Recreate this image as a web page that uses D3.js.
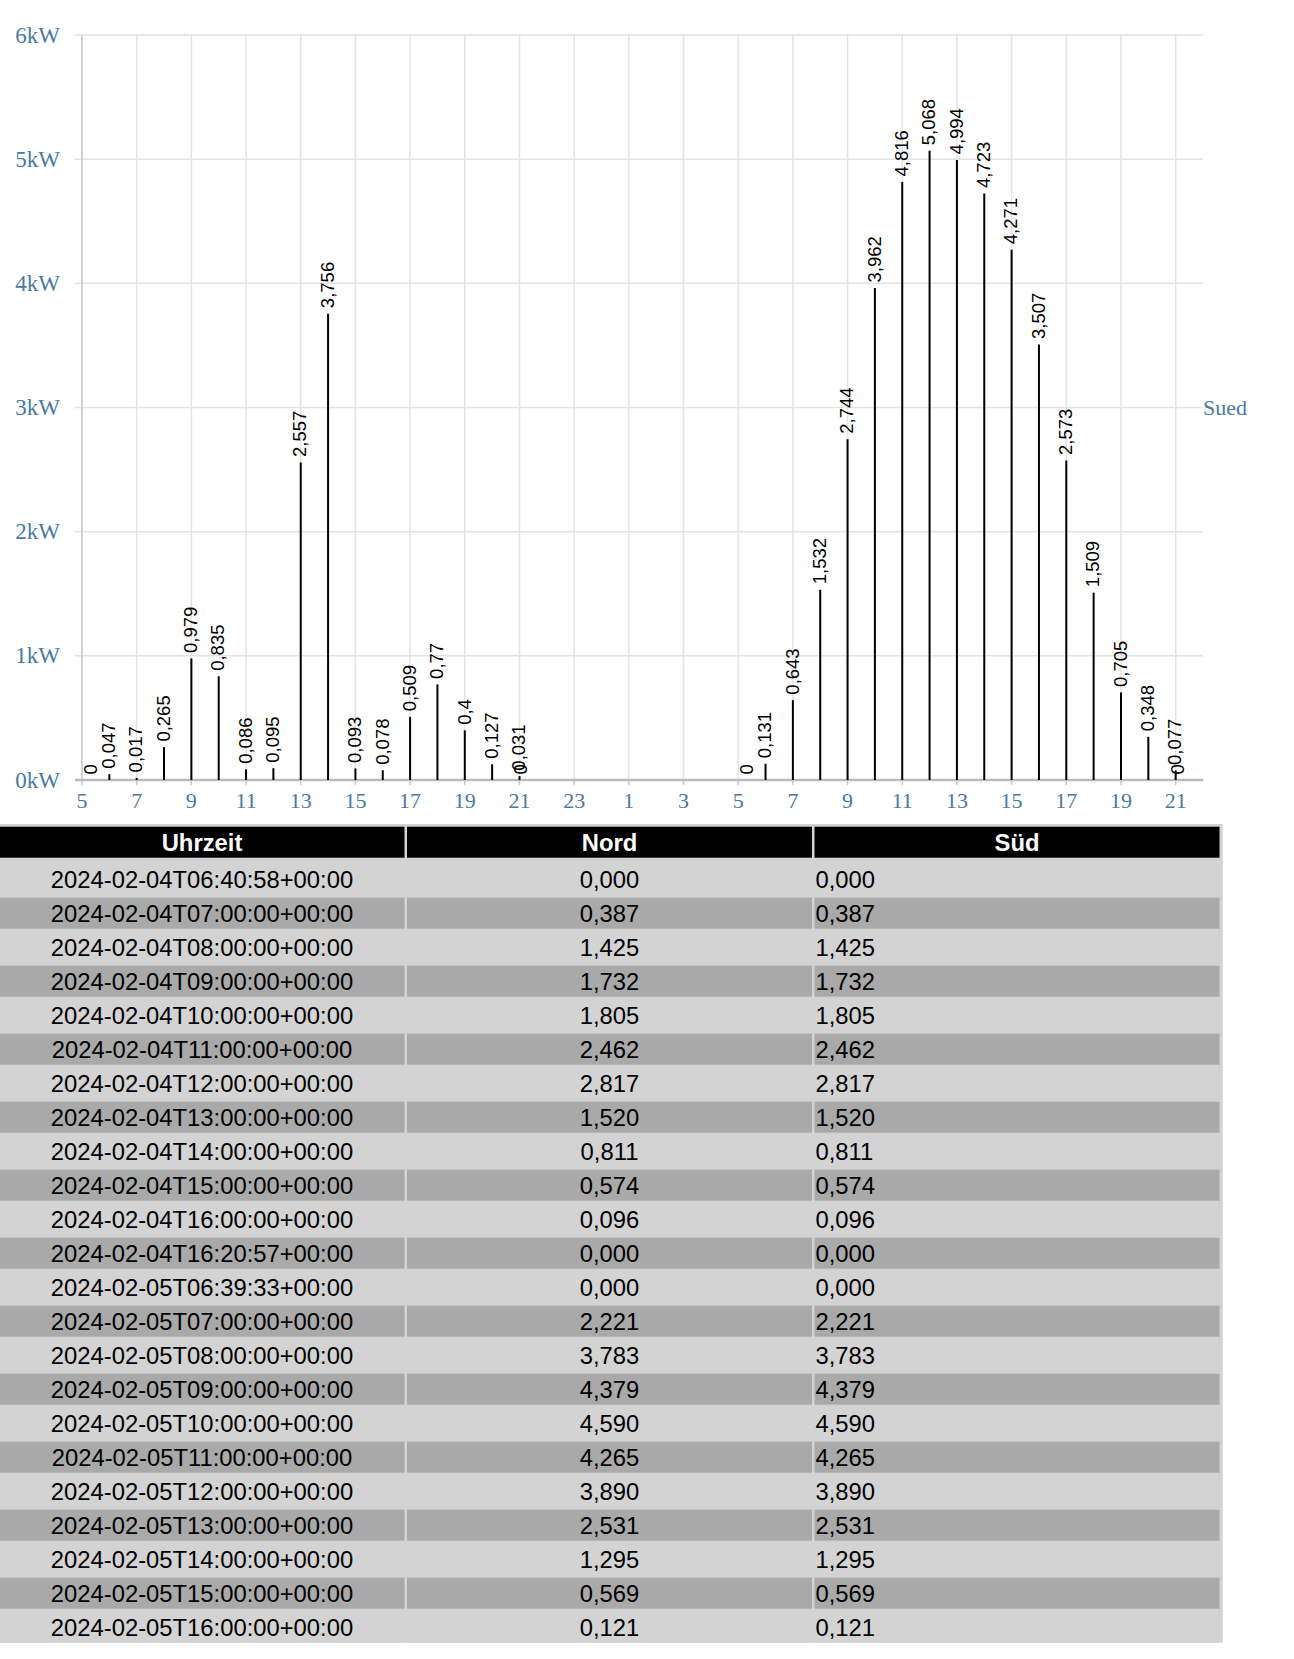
<!DOCTYPE html>
<html>
<head>
<meta charset="utf-8">
<script src="https://cdn.jsdelivr.net/npm/d3@7"></script>
<style>
  html, body { margin: 0; padding: 0; background: #fff; }
  svg { display: block; }
</style>
</head>
<body>
<svg id="chart" width="1294" height="1659"></svg>
<script>
// ---------- chart data (series "Sued") ----------
const day1Times = ["2024-02-04T05:20:00Z","2024-02-04T06:00:00Z","2024-02-04T07:00:00Z","2024-02-04T08:00:00Z",
  "2024-02-04T09:00:00Z","2024-02-04T10:00:00Z","2024-02-04T11:00:00Z","2024-02-04T12:00:00Z",
  "2024-02-04T13:00:00Z","2024-02-04T14:00:00Z","2024-02-04T15:00:00Z","2024-02-04T16:00:00Z",
  "2024-02-04T17:00:00Z","2024-02-04T18:00:00Z","2024-02-04T19:00:00Z","2024-02-04T20:00:00Z",
  "2024-02-04T21:00:00Z","2024-02-04T21:04:00Z"];
const day1Values = [0, 0.047, 0.017, 0.265, 0.979, 0.835, 0.086, 0.095, 2.557, 3.756, 0.093, 0.078, 0.509, 0.77, 0.4, 0.127, 0.031, 0];
const day2Times = ["2024-02-05T05:20:00Z","2024-02-05T06:00:00Z","2024-02-05T07:00:00Z","2024-02-05T08:00:00Z",
  "2024-02-05T09:00:00Z","2024-02-05T10:00:00Z","2024-02-05T11:00:00Z","2024-02-05T12:00:00Z",
  "2024-02-05T13:00:00Z","2024-02-05T14:00:00Z","2024-02-05T15:00:00Z","2024-02-05T16:00:00Z",
  "2024-02-05T17:00:00Z","2024-02-05T18:00:00Z","2024-02-05T19:00:00Z","2024-02-05T20:00:00Z",
  "2024-02-05T21:00:00Z","2024-02-05T21:05:00Z"];
const day2Values = [0, 0.131, 0.643, 1.532, 2.744, 3.962, 4.816, 5.068, 4.994, 4.723, 4.271, 3.507, 2.573, 1.509, 0.705, 0.348, 0.077, 0];
const xDomain = ["2024-02-04T05:00:00Z", "2024-02-05T22:00:00Z"];
const yTicks = [0, 1, 2, 3, 4, 5, 6];
const seriesName = "Sued";

// ---------- table data ----------
const tableHeaders = ["Uhrzeit", "Nord", "Süd"];
const tableTimes = [
  "2024-02-04T06:40:58+00:00","2024-02-04T07:00:00+00:00","2024-02-04T08:00:00+00:00","2024-02-04T09:00:00+00:00",
  "2024-02-04T10:00:00+00:00","2024-02-04T11:00:00+00:00","2024-02-04T12:00:00+00:00","2024-02-04T13:00:00+00:00",
  "2024-02-04T14:00:00+00:00","2024-02-04T15:00:00+00:00","2024-02-04T16:00:00+00:00","2024-02-04T16:20:57+00:00",
  "2024-02-05T06:39:33+00:00","2024-02-05T07:00:00+00:00","2024-02-05T08:00:00+00:00","2024-02-05T09:00:00+00:00",
  "2024-02-05T10:00:00+00:00","2024-02-05T11:00:00+00:00","2024-02-05T12:00:00+00:00","2024-02-05T13:00:00+00:00",
  "2024-02-05T14:00:00+00:00","2024-02-05T15:00:00+00:00","2024-02-05T16:00:00+00:00"];
const nordValues = [0, 0.387, 1.425, 1.732, 1.805, 2.462, 2.817, 1.520, 0.811, 0.574, 0.096, 0,
  0, 2.221, 3.783, 4.379, 4.590, 4.265, 3.890, 2.531, 1.295, 0.569, 0.121];
const suedValues = [0, 0.387, 1.425, 1.732, 1.805, 2.462, 2.817, 1.520, 0.811, 0.574, 0.096, 0,
  0, 2.221, 3.783, 4.379, 4.590, 4.265, 3.890, 2.531, 1.295, 0.569, 0.121];

(function draw() {
  const svg = d3.select("#chart");
  const blue = "#4a7aa2";
  const serif = "'Liberation Serif', 'Times New Roman', serif";
  const sans = "'Liberation Sans', Arial, sans-serif";
  const pL = 82, pR = 1203, pT = 35, pB = 780;

  const x = d3.scaleUtc().domain(xDomain.map(d => new Date(d))).range([pL, pR]);
  const y = d3.scaleLinear().domain([0, 6]).range([pB, pT]);

  const points = day1Times.map((t, i) => ({t: new Date(t), v: day1Values[i]}))
    .concat(day2Times.map((t, i) => ({t: new Date(t), v: day2Values[i]})));

  const xTicks = x.ticks(d3.utcHour.every(1)).filter(d => d.getUTCHours() % 2 === 1);

  const g = svg.append("g");
  g.selectAll("line.hgrid").data(yTicks).join("line")
    .attr("x1", pL - 7).attr("x2", pR)
    .attr("y1", d => y(d)).attr("y2", d => y(d))
    .attr("stroke", "#e3e3e3").attr("stroke-width", 1.5);
  g.selectAll("line.vgrid").data(xTicks).join("line")
    .attr("x1", d => x(d)).attr("x2", d => x(d))
    .attr("y1", pT).attr("y2", pB)
    .attr("stroke", "#e3e3e3").attr("stroke-width", 1.5);

  g.append("line").attr("x1", pL).attr("x2", pL).attr("y1", pT).attr("y2", pB)
    .attr("stroke", "#c8c8c8").attr("stroke-width", 1.5);

  g.selectAll("line.xtick").data(xTicks).join("line")
    .attr("x1", d => x(d)).attr("x2", d => x(d))
    .attr("y1", pB).attr("y2", pB + 5)
    .attr("stroke", "#c8c8c8").attr("stroke-width", 1.5);

  g.append("line").attr("x1", pL - 7).attr("x2", pR).attr("y1", pB).attr("y2", pB)
    .attr("stroke", "#bbbbbb").attr("stroke-width", 2.5);

  g.selectAll("text.ylab").data(yTicks).join("text")
    .attr("x", 60).attr("y", d => y(d))
    .attr("dy", "0.33em")
    .attr("text-anchor", "end")
    .attr("font-family", serif).attr("font-size", 23).attr("fill", blue)
    .text(d => d + "kW");

  const fmtHour = d3.utcFormat("%-H");
  g.selectAll("text.xlab").data(xTicks).join("text")
    .attr("x", d => x(d)).attr("y", 808)
    .attr("text-anchor", "middle")
    .attr("font-family", serif).attr("font-size", 22).attr("fill", blue)
    .text(d => fmtHour(d));

  g.append("text").attr("x", pR).attr("y", y(3)).attr("dy", "0.33em")
    .attr("font-family", serif).attr("font-size", 22).attr("fill", blue)
    .text(seriesName);

  g.selectAll("line.stem").data(points).join("line")
    .attr("x1", d => x(d.t)).attr("x2", d => x(d.t))
    .attr("y1", y(0)).attr("y2", d => y(d.v))
    .attr("stroke", "#000").attr("stroke-width", 2);

  const fmtVal = v => String(v).replace(".", ",");
  g.selectAll("text.val").data(points).join("text")
    .attr("transform", d => `translate(${x(d.t)},${y(d.v) - 5.5}) rotate(-90)`)
    .attr("dy", "0.31em")
    .attr("text-anchor", "start")
    .attr("font-family", sans).attr("font-size", 18.5).attr("fill", "#000")
    .text(d => fmtVal(d.v));

  // ---------- table ----------
  const fmt3 = v => v.toFixed(3).replace(".", ",");
  const tbl = svg.append("g");
  const colX = [-0.5, 407, 814.5];
  const colW = 405;
  const headTop = 826.7, headH = 31;
  const rowTop0 = 863.7, rowPitch = 34, rowH = 31;
  const nRows = tableTimes.length;
  const fs = 23.8;

  tbl.append("rect").attr("x", -3).attr("y", 824)
    .attr("width", 1225.7).attr("height", rowTop0 + (nRows - 1) * rowPitch + rowH - 824)
    .attr("fill", "#d3d3d3");

  tbl.selectAll("rect.head").data(tableHeaders).join("rect")
    .attr("x", (d, i) => colX[i]).attr("y", headTop).attr("width", colW).attr("height", headH)
    .attr("fill", "#000");
  tbl.selectAll("text.head").data(tableHeaders).join("text")
    .attr("x", (d, i) => colX[i] + colW / 2).attr("y", headTop + headH / 2 + 8.4)
    .attr("text-anchor", "middle")
    .attr("font-family", sans).attr("font-weight", "bold").attr("font-size", fs).attr("fill", "#fff")
    .text(d => d);

  const rows = tableTimes.map((t, i) => ({i, cells: [t, fmt3(nordValues[i]), fmt3(suedValues[i])]}));
  const rowG = tbl.selectAll("g.row").data(rows).join("g")
    .attr("transform", d => `translate(0,${rowTop0 + d.i * rowPitch})`);
  rowG.selectAll("rect").data(d => d.cells.map((c, j) => ({c, j, i: d.i}))).join("rect")
    .attr("x", d => colX[d.j]).attr("y", 0).attr("width", colW).attr("height", rowH)
    .attr("fill", d => d.i % 2 === 0 ? "#d3d3d3" : "#a9a9a9");
  rowG.selectAll("text").data(d => d.cells.map((c, j) => ({c, j}))).join("text")
    .attr("x", d => d.j === 2 ? colX[d.j] + 1 : colX[d.j] + colW / 2)
    .attr("y", rowH / 2 + 8.6)
    .attr("text-anchor", d => d.j === 2 ? "start" : "middle")
    .attr("font-family", sans).attr("font-size", fs).attr("fill", "#000")
    .text(d => d.c);
})();
</script>
</body>
</html>
